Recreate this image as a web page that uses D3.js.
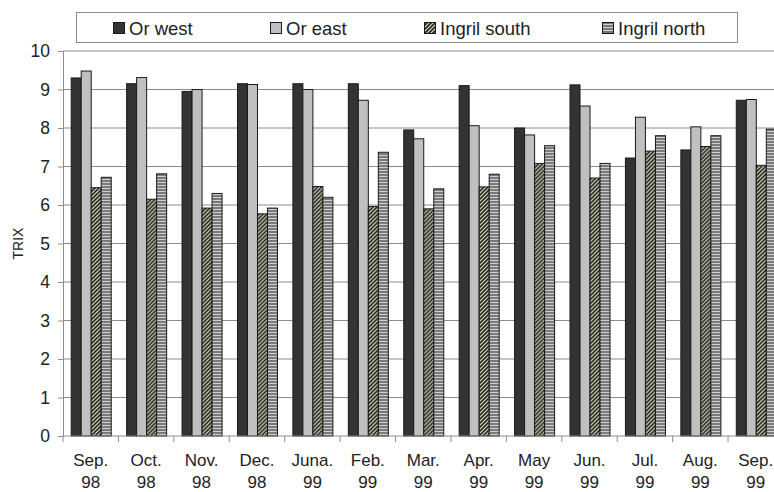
<!DOCTYPE html>
<html>
<head>
<meta charset="utf-8">
<script src="https://cdn.jsdelivr.net/npm/d3@7"></script>
<style>
  html, body { margin: 0; padding: 0; background: #fff; }
  svg { display: block; }
  text { font-family: "Liberation Sans", Arial, sans-serif; fill: #222; }
</style>
</head>
<body>
<svg id="chart" width="774" height="492"></svg>
<script>
// Monthly TRIX index at four lagoon stations, Sep. 1998 – Sep. 1999
const months = ["Sep.", "Oct.", "Nov.", "Dec.", "Juna.", "Feb.", "Mar.", "Apr.", "May", "Jun.", "Jul.", "Aug.", "Sep."];
const years  = ["98", "98", "98", "98", "99", "99", "99", "99", "99", "99", "99", "99", "99"];
const seriesNames = ["Or west", "Or east", "Ingril south", "Ingril north"];

const orWest      = [9.30, 9.15, 8.95, 9.15, 9.15, 9.15, 7.95, 9.10, 8.00, 9.12, 7.22, 7.43, 8.72];
const orEast      = [9.48, 9.31, 9.00, 9.13, 9.00, 8.72, 7.72, 8.06, 7.82, 8.57, 8.28, 8.03, 8.74];
const ingrilSouth = [6.45, 6.15, 5.92, 5.77, 6.48, 5.96, 5.90, 6.47, 7.08, 6.70, 7.40, 7.52, 7.03];
const ingrilNorth = [6.72, 6.81, 6.30, 5.92, 6.20, 7.37, 6.42, 6.80, 7.54, 7.08, 7.80, 7.80, 7.97];

const yTicks = [0, 1, 2, 3, 4, 5, 6, 7, 8, 9, 10];

const values = [orWest, orEast, ingrilSouth, ingrilNorth];
const categories = months.map((m, i) => i);

const svg = d3.select("#chart");
const defs = svg.append("defs");

// Diagonal hatch for Ingril south
const hatch = defs.append("pattern")
  .attr("id", "hatchSouth").attr("patternUnits", "userSpaceOnUse")
  .attr("width", 4).attr("height", 4);
hatch.append("rect").attr("width", 4).attr("height", 4).attr("fill", "#d9d9b8");
hatch.append("path").attr("d", "M-1,1 l2,-2 M0,4 l4,-4 M3,5 l2,-2")
  .attr("stroke", "#262626").attr("stroke-width", 1.6);

// Horizontal stripes for Ingril north
const stripes = defs.append("pattern")
  .attr("id", "stripeNorth").attr("patternUnits", "userSpaceOnUse")
  .attr("width", 4).attr("height", 3);
stripes.append("rect").attr("width", 4).attr("height", 3).attr("fill", "#7a7a7a");
stripes.append("rect").attr("y", 2).attr("width", 4).attr("height", 1).attr("fill", "#cfcfcf");

const fills = ["#333333", "#c0c0c0", "url(#hatchSouth)", "url(#stripeNorth)"];

const plotLeft = 63, plotRight = 783.5, plotTop = 51, plotBottom = 436;

const x0 = d3.scaleBand().domain(categories).range([plotLeft, plotRight]).padding(0);
const x1 = d3.scaleBand().domain(seriesNames).range([0, x0.bandwidth()])
  .paddingInner(0).paddingOuter(0.77);
const y = d3.scaleLinear().domain([0, 10]).range([plotBottom, plotTop]);

// Horizontal gridlines
svg.append("g").selectAll("line").data(yTicks.filter(t => t > 0)).join("line")
  .attr("x1", plotLeft).attr("x2", 774)
  .attr("y1", d => y(d)).attr("y2", d => y(d))
  .attr("stroke", "#8c8c8c").attr("stroke-width", 1);

// Bars
const groups = svg.append("g").selectAll("g").data(categories).join("g")
  .attr("transform", d => `translate(${x0(d)},0)`);
groups.selectAll("rect")
  .data(ci => seriesNames.map((s, si) => ({ s, si, v: values[si][ci] })))
  .join("rect")
  .attr("x", d => x1(d.s) + 0.5)
  .attr("width", x1.bandwidth())
  .attr("y", d => y(d.v))
  .attr("height", d => y(0) - y(d.v))
  .attr("fill", d => fills[d.si])
  .attr("stroke", "#1a1a1a").attr("stroke-width", 1);

// Y axis
const yAxis = d3.axisLeft(y).tickValues(yTicks).tickSize(5).tickPadding(8).tickFormat(d3.format("d"));
const gy = svg.append("g").attr("transform", `translate(${plotLeft},0)`).call(yAxis);
gy.select(".domain").attr("stroke", "#8c8c8c");
gy.selectAll(".tick line").attr("stroke", "#8c8c8c");
gy.selectAll(".tick text").attr("font-size", 17.5).attr("fill", "#222")
  .attr("font-family", "Liberation Sans, Arial, sans-serif");

// X axis: baseline with ticks at category boundaries
const gx = svg.append("g");
gx.append("line").attr("x1", plotLeft).attr("x2", 774).attr("y1", plotBottom).attr("y2", plotBottom)
  .attr("stroke", "#8c8c8c");
gx.selectAll("line.tk").data(categories.concat([categories.length])).join("line")
  .attr("class", "tk")
  .attr("x1", d => d < categories.length ? x0(d) : plotRight)
  .attr("x2", d => d < categories.length ? x0(d) : plotRight)
  .attr("y1", plotBottom).attr("y2", plotBottom + 6)
  .attr("stroke", "#8c8c8c");

const labels = gx.selectAll("text").data(categories).join("text")
  .attr("text-anchor", "middle").attr("font-size", 17)
  .attr("x", d => x0(d) + x0.bandwidth() / 2);
labels.append("tspan").attr("x", d => x0(d) + x0.bandwidth() / 2).attr("y", 465.5).text(d => months[d]);
labels.append("tspan").attr("x", d => x0(d) + x0.bandwidth() / 2).attr("y", 487.5).text(d => years[d]);

// Y axis title
svg.append("text").attr("transform", `translate(23,${(plotTop + plotBottom) / 2}) rotate(-90)`)
  .attr("text-anchor", "middle").attr("font-size", 14).text("TRIX");

// Legend
const lg = svg.append("g");
lg.append("rect").attr("x", 76.5).attr("y", 12.5).attr("width", 661).attr("height", 30)
  .attr("fill", "#fff").attr("stroke", "#8c8c8c");
const legendX = [113, 270, 424, 602];
const items = lg.selectAll("g.item").data(seriesNames).join("g").attr("class", "item")
  .attr("transform", (d, i) => `translate(${legendX[i]},22)`);
items.append("rect").attr("width", 11).attr("height", 11).attr("x", 0.5).attr("y", 0.5)
  .attr("fill", (d, i) => fills[i]).attr("stroke", "#1a1a1a");
items.append("text").attr("x", 16).attr("y", 12.5).attr("font-size", 18.5).text(d => d);
</script>
</body>
</html>
